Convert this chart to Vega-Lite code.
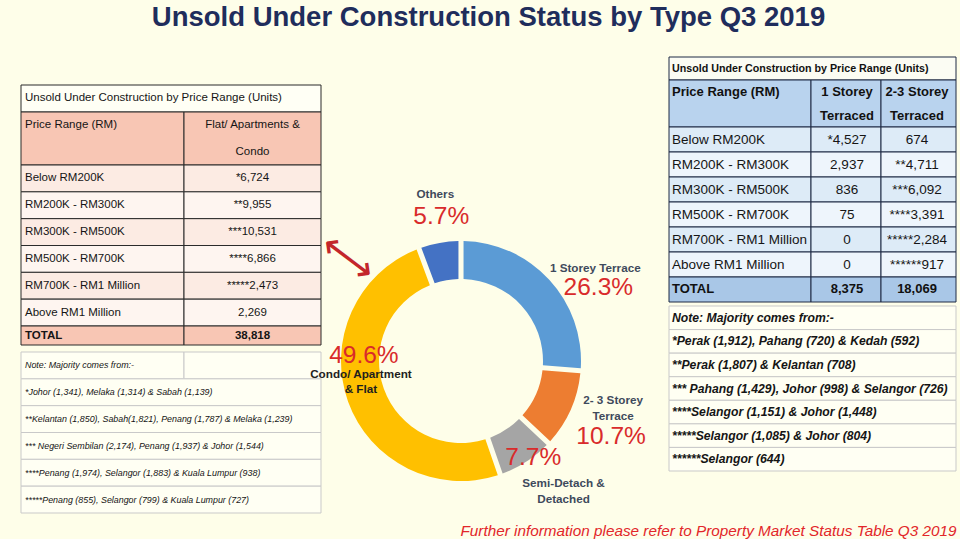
{
  "$schema": "https://vega.github.io/schema/vega-lite/v6.json",
  "background": "#FEFEE9",
  "padding": {"left": 20, "top": 3, "right": 5, "bottom": 0},
  "config": {
    "view": {"stroke": null},
    "font": "Liberation Sans"
  },
  "title": {
    "text": "Unsold Under Construction Status by Type Q3 2019",
    "fontSize": 27.5, "fontWeight": "bold", "color": "#1F2D5C",
    "anchor": "middle", "baseline": "top", "offset": 13
  },
  "datasets": {
    "leftCells": [
      {"r0": 0, "r1": 1, "c0": 0, "c1": 2, "kind": "Lt"},
      {"r0": 1, "r1": 3, "c0": 0, "c1": 1, "kind": "Lh"},
      {"r0": 1, "r1": 3, "c0": 1, "c1": 2, "kind": "Lh"},
      {"r0": 3, "r1": 4, "c0": 0, "c1": 1, "kind": "Lo"},
      {"r0": 3, "r1": 4, "c0": 1, "c1": 2, "kind": "Lo"},
      {"r0": 4, "r1": 5, "c0": 0, "c1": 1, "kind": "Le"},
      {"r0": 4, "r1": 5, "c0": 1, "c1": 2, "kind": "Le"},
      {"r0": 5, "r1": 6, "c0": 0, "c1": 1, "kind": "Lo"},
      {"r0": 5, "r1": 6, "c0": 1, "c1": 2, "kind": "Lo"},
      {"r0": 6, "r1": 7, "c0": 0, "c1": 1, "kind": "Le"},
      {"r0": 6, "r1": 7, "c0": 1, "c1": 2, "kind": "Le"},
      {"r0": 7, "r1": 8, "c0": 0, "c1": 1, "kind": "Lo"},
      {"r0": 7, "r1": 8, "c0": 1, "c1": 2, "kind": "Lo"},
      {"r0": 8, "r1": 9, "c0": 0, "c1": 1, "kind": "Le"},
      {"r0": 8, "r1": 9, "c0": 1, "c1": 2, "kind": "Le"},
      {"r0": 9, "r1": 10, "c0": 0, "c1": 1, "kind": "LT"},
      {"r0": 9, "r1": 10, "c0": 1, "c1": 2, "kind": "LT"},
      {"r0": 11, "r1": 12, "c0": 0, "c1": 1, "kind": "Ln"},
      {"r0": 11, "r1": 12, "c0": 1, "c1": 2, "kind": "Ln"},
      {"r0": 12, "r1": 13, "c0": 0, "c1": 2, "kind": "Ln"},
      {"r0": 13, "r1": 14, "c0": 0, "c1": 2, "kind": "Ln"},
      {"r0": 14, "r1": 15, "c0": 0, "c1": 2, "kind": "Ln"},
      {"r0": 15, "r1": 16, "c0": 0, "c1": 2, "kind": "Ln"},
      {"r0": 16, "r1": 17, "c0": 0, "c1": 2, "kind": "Ln"}
    ],
    "leftTexts": [
      {"r0": 0, "c0": 0, "t": "Unsold Under Construction by Price Range (Units)"},
      {"r0": 1, "c0": 0, "t": "Price Range (RM)"},
      {"r0": 1, "c0": 1, "t": "Flat/ Apartments &"},
      {"r0": 2, "c0": 1, "t": "Condo"},
      {"r0": 3, "c0": 0, "t": "Below RM200K"},
      {"r0": 3, "c0": 1, "t": "*6,724"},
      {"r0": 4, "c0": 0, "t": "RM200K - RM300K"},
      {"r0": 4, "c0": 1, "t": "**9,955"},
      {"r0": 5, "c0": 0, "t": "RM300K - RM500K"},
      {"r0": 5, "c0": 1, "t": "***10,531"},
      {"r0": 6, "c0": 0, "t": "RM500K - RM700K"},
      {"r0": 6, "c0": 1, "t": "****6,866"},
      {"r0": 7, "c0": 0, "t": "RM700K - RM1 Million"},
      {"r0": 7, "c0": 1, "t": "*****2,473"},
      {"r0": 8, "c0": 0, "t": "Above RM1 Million"},
      {"r0": 8, "c0": 1, "t": "2,269"},
      {"r0": 9, "c0": 0, "t": "TOTAL"},
      {"r0": 9, "c0": 1, "t": "38,818"},
      {"r0": 11, "c0": 0, "t": "Note:  Majority comes from:-"},
      {"r0": 12, "c0": 0, "t": "*Johor (1,341), Melaka (1,314) & Sabah (1,139)"},
      {"r0": 13, "c0": 0, "t": "**Kelantan (1,850), Sabah(1,821), Penang (1,787) & Melaka (1,239)"},
      {"r0": 14, "c0": 0, "t": "*** Negeri Sembilan (2,174), Penang (1,937) & Johor (1,544)"},
      {"r0": 15, "c0": 0, "t": "****Penang (1,974), Selangor (1,883) & Kuala Lumpur (938)"},
      {"r0": 16, "c0": 0, "t": "*****Penang (855), Selangor (799) & Kuala Lumpur (727)"}
    ],
    "rightCells": [
      {"r0": 0, "r1": 1, "c0": 0, "c1": 3, "kind": "Rt"},
      {"r0": 1, "r1": 3, "c0": 0, "c1": 1, "kind": "Rh"},
      {"r0": 1, "r1": 3, "c0": 1, "c1": 2, "kind": "Rh"},
      {"r0": 1, "r1": 3, "c0": 2, "c1": 3, "kind": "Rh"},
      {"r0": 3, "r1": 4, "c0": 0, "c1": 1, "kind": "Ro"},
      {"r0": 3, "r1": 4, "c0": 1, "c1": 2, "kind": "Ro"},
      {"r0": 3, "r1": 4, "c0": 2, "c1": 3, "kind": "Ro"},
      {"r0": 4, "r1": 5, "c0": 0, "c1": 1, "kind": "Re"},
      {"r0": 4, "r1": 5, "c0": 1, "c1": 2, "kind": "Re"},
      {"r0": 4, "r1": 5, "c0": 2, "c1": 3, "kind": "Re"},
      {"r0": 5, "r1": 6, "c0": 0, "c1": 1, "kind": "Ro"},
      {"r0": 5, "r1": 6, "c0": 1, "c1": 2, "kind": "Ro"},
      {"r0": 5, "r1": 6, "c0": 2, "c1": 3, "kind": "Ro"},
      {"r0": 6, "r1": 7, "c0": 0, "c1": 1, "kind": "Re"},
      {"r0": 6, "r1": 7, "c0": 1, "c1": 2, "kind": "Re"},
      {"r0": 6, "r1": 7, "c0": 2, "c1": 3, "kind": "Re"},
      {"r0": 7, "r1": 8, "c0": 0, "c1": 1, "kind": "Ro"},
      {"r0": 7, "r1": 8, "c0": 1, "c1": 2, "kind": "Ro"},
      {"r0": 7, "r1": 8, "c0": 2, "c1": 3, "kind": "Ro"},
      {"r0": 8, "r1": 9, "c0": 0, "c1": 1, "kind": "Re"},
      {"r0": 8, "r1": 9, "c0": 1, "c1": 2, "kind": "Re"},
      {"r0": 8, "r1": 9, "c0": 2, "c1": 3, "kind": "Re"},
      {"r0": 9, "r1": 10, "c0": 0, "c1": 1, "kind": "RT"},
      {"r0": 9, "r1": 10, "c0": 1, "c1": 2, "kind": "RT"},
      {"r0": 9, "r1": 10, "c0": 2, "c1": 3, "kind": "RT"},
      {"r0": 11, "r1": 12, "c0": 0, "c1": 3, "kind": "Rn"},
      {"r0": 12, "r1": 13, "c0": 0, "c1": 3, "kind": "Rn"},
      {"r0": 13, "r1": 14, "c0": 0, "c1": 3, "kind": "Rn"},
      {"r0": 14, "r1": 15, "c0": 0, "c1": 3, "kind": "Rn"},
      {"r0": 15, "r1": 16, "c0": 0, "c1": 3, "kind": "Rn"},
      {"r0": 16, "r1": 17, "c0": 0, "c1": 3, "kind": "Rn"},
      {"r0": 17, "r1": 18, "c0": 0, "c1": 3, "kind": "Rn"}
    ],
    "rightTexts": [
      {"r0": 0, "c0": 0, "t": "Unsold Under Construction by Price Range (Units)"},
      {"r0": 1, "c0": 0, "t": "Price Range (RM)"},
      {"r0": 1, "c0": 1, "t": "1 Storey"},
      {"r0": 2, "c0": 1, "t": "Terraced"},
      {"r0": 1, "c0": 2, "t": "2-3 Storey"},
      {"r0": 2, "c0": 2, "t": "Terraced"},
      {"r0": 3, "c0": 0, "t": "Below RM200K"},
      {"r0": 3, "c0": 1, "t": "*4,527"},
      {"r0": 3, "c0": 2, "t": "674"},
      {"r0": 4, "c0": 0, "t": "RM200K - RM300K"},
      {"r0": 4, "c0": 1, "t": "2,937"},
      {"r0": 4, "c0": 2, "t": "**4,711"},
      {"r0": 5, "c0": 0, "t": "RM300K - RM500K"},
      {"r0": 5, "c0": 1, "t": "836"},
      {"r0": 5, "c0": 2, "t": "***6,092"},
      {"r0": 6, "c0": 0, "t": "RM500K - RM700K"},
      {"r0": 6, "c0": 1, "t": "75"},
      {"r0": 6, "c0": 2, "t": "****3,391"},
      {"r0": 7, "c0": 0, "t": "RM700K - RM1 Million"},
      {"r0": 7, "c0": 1, "t": "0"},
      {"r0": 7, "c0": 2, "t": "*****2,284"},
      {"r0": 8, "c0": 0, "t": "Above RM1 Million"},
      {"r0": 8, "c0": 1, "t": "0"},
      {"r0": 8, "c0": 2, "t": "******917"},
      {"r0": 9, "c0": 0, "t": "TOTAL"},
      {"r0": 9, "c0": 1, "t": "8,375"},
      {"r0": 9, "c0": 2, "t": "18,069"},
      {"r0": 11, "c0": 0, "t": "Note:  Majority comes from:-"},
      {"r0": 12, "c0": 0, "t": "*Perak (1,912), Pahang (720) & Kedah (592)"},
      {"r0": 13, "c0": 0, "t": "**Perak (1,807) & Kelantan (708)"},
      {"r0": 14, "c0": 0, "t": "*** Pahang (1,429), Johor (998) & Selangor (726)"},
      {"r0": 15, "c0": 0, "t": "****Selangor (1,151) & Johor (1,448)"},
      {"r0": 16, "c0": 0, "t": "*****Selangor (1,085) & Johor (804)"},
      {"r0": 17, "c0": 0, "t": "******Selangor (644)"}
    ],
    "donut": [
      {"label": "1 Storey Terrace", "share": 0.263, "idx": 1},
      {"label": "2- 3 Storey\nTerrace", "share": 0.107, "idx": 2},
      {"label": "Semi-Detach &\nDetached", "share": 0.077, "idx": 3},
      {"label": "Condo/ Apartment\n& Flat", "share": 0.496, "idx": 4},
      {"label": "Others", "share": 0.057, "idx": 5}
    ]
  },
  "bounds": "flush",
  "spacing": 10,
  "hconcat": [
    {
      "width": 300, "height": 323,
      "encoding": {
        "x": {"field": "c0", "type": "quantitative", "scale": {"domain": [0, 1, 2], "range": [0, 163, 300], "nice": false, "zero": false}, "axis": null},
        "y": {"field": "r0", "type": "quantitative", "scale": {"domain": [0, 1, 3, 9, 10, 11, 17], "range": [-105, -78, -25, 136, 155, 162, 323], "nice": false, "zero": false}, "axis": null}
      },
      "layer": [
        {
          "data": {"name": "leftCells"},
          "mark": {"type": "rect", "strokeWidth": 1},
          "encoding": {
            "x2": {"field": "c1"}, "y2": {"field": "r1"},
            "fill": {"field": "kind", "type": "nominal", "legend": null,
              "scale": {"domain": ["Lt", "Lh", "Lo", "Le", "LT", "Ln", "Rt", "Rh", "Ro", "Re", "RT", "Rn"],
                        "range": ["#FFFFF5", "#F8C6B4", "#FCEBE3", "#FEF5F0", "#F8C6B4", "#FFFFF3", "#FBFCF3", "#B9D3EE", "#DDEBF7", "#EEF5FC", "#A9C7E7", "#FFFFF3"]}},
            "stroke": {"field": "kind", "type": "nominal", "legend": null,
              "scale": {"domain": ["Lt", "Lh", "Lo", "Le", "LT", "Ln", "Rt", "Rh", "Ro", "Re", "RT", "Rn"],
                        "range": ["#2B2B2B", "#2B2B2B", "#2B2B2B", "#2B2B2B", "#2B2B2B", "#C9C9C9", "#1F2A44", "#1F2A44", "#1F2A44", "#1F2A44", "#1F2A44", "#C9C9C9"]}}
          }
        },
        {
          "data": {"name": "leftTexts"},
          "transform": [{"filter": "datum.c0 === 0 && datum.r0 < 9"}],
          "mark": {"type": "text", "align": "left", "baseline": "middle", "dx": 4, "dy": 13.4, "fontSize": 11.5, "color": "#151515"},
          "encoding": {"text": {"field": "t"}}
        },
        {
          "data": {"name": "leftTexts"},
          "transform": [{"filter": "datum.c0 === 1 && datum.r0 < 9"}],
          "mark": {"type": "text", "align": "center", "baseline": "middle", "dx": 68.5, "dy": 13.4, "fontSize": 11.5, "color": "#151515"},
          "encoding": {"text": {"field": "t"}}
        },
        {
          "data": {"name": "leftTexts"},
          "transform": [{"filter": "datum.c0 === 0 && datum.r0 === 9"}],
          "mark": {"type": "text", "align": "left", "baseline": "middle", "dx": 4, "dy": 9.5, "fontSize": 11.5, "fontWeight": "bold", "color": "#151515"},
          "encoding": {"text": {"field": "t"}}
        },
        {
          "data": {"name": "leftTexts"},
          "transform": [{"filter": "datum.c0 === 1 && datum.r0 === 9"}],
          "mark": {"type": "text", "align": "center", "baseline": "middle", "dx": 68.5, "dy": 9.5, "fontSize": 11.5, "fontWeight": "bold", "color": "#151515"},
          "encoding": {"text": {"field": "t"}}
        },
        {
          "data": {"name": "leftTexts"},
          "transform": [{"filter": "datum.r0 >= 11"}],
          "mark": {"type": "text", "align": "left", "baseline": "middle", "dx": 4, "dy": 13.4, "fontSize": 8.9, "fontStyle": "italic", "color": "#151515"},
          "encoding": {"text": {"field": "t"}}
        }
      ]
    },
    {
      "width": 260, "height": 342,
      "data": {"name": "donut"},
      "encoding": {
        "theta": {"field": "share", "type": "quantitative", "stack": true},
        "order": {"field": "idx", "type": "quantitative"}
      },
      "layer": [
        {
          "mark": {"type": "arc", "innerRadius": 82, "outerRadius": 120, "padAngle": 0.035},
          "encoding": {
            "color": {"field": "label", "type": "nominal", "legend": null,
              "scale": {"domain": ["1 Storey Terrace", "2- 3 Storey\nTerrace", "Semi-Detach &\nDetached", "Condo/ Apartment\n& Flat", "Others"],
                        "range": ["#5B9BD5", "#ED7D31", "#A5A5A5", "#FFC000", "#4472C4"]}}
          }
        },
        {
          "mark": {"type": "text", "radius": 150, "dx": 24, "dy": 9, "fontSize": 11.7, "fontWeight": "bold", "color": "#3E4A5C", "lineBreak": "\n", "lineHeight": 16},
          "encoding": {"detail": {"field": "label"}, "text": {"condition": {"test": "datum.idx === 1", "field": "label", "type": "nominal"}, "value": ""}}
        },
        {
          "mark": {"type": "text", "radius": 150, "dx": 15, "dy": -22, "fontSize": 11.7, "fontWeight": "bold", "color": "#3E4A5C", "lineBreak": "\n", "lineHeight": 16},
          "encoding": {"detail": {"field": "label"}, "text": {"condition": {"test": "datum.idx === 2", "field": "label", "type": "nominal"}, "value": ""}}
        },
        {
          "mark": {"type": "text", "radius": 150, "dx": 21, "dy": -4, "fontSize": 11.7, "fontWeight": "bold", "color": "#3E4A5C", "lineBreak": "\n", "lineHeight": 16},
          "encoding": {"detail": {"field": "label"}, "text": {"condition": {"test": "datum.idx === 3", "field": "label", "type": "nominal"}, "value": ""}}
        },
        {
          "mark": {"type": "text", "radius": 100, "dx": -6, "dy": -21, "fontSize": 11.7, "fontWeight": "bold", "color": "#1E1E1E", "lineBreak": "\n", "lineHeight": 15},
          "encoding": {"detail": {"field": "label"}, "text": {"condition": {"test": "datum.idx === 4", "field": "label", "type": "nominal"}, "value": ""}}
        },
        {
          "mark": {"type": "text", "radius": 150, "dx": 1, "dy": -19, "fontSize": 11.7, "fontWeight": "bold", "color": "#3E4A5C", "lineBreak": "\n", "lineHeight": 16},
          "encoding": {"detail": {"field": "label"}, "text": {"condition": {"test": "datum.idx === 5", "field": "label", "type": "nominal"}, "value": ""}}
        },
        {
          "mark": {"type": "text", "radius": 150, "dx": 27, "dy": 29, "fontSize": 24.5, "color": "#D92B2B"},
          "encoding": {"detail": {"field": "label"}, "text": {"condition": {"test": "datum.idx === 1", "field": "share", "type": "quantitative", "format": ".1%"}, "value": ""}}
        },
        {
          "mark": {"type": "text", "radius": 150, "dx": 13, "dy": 15, "fontSize": 24.5, "color": "#D92B2B"},
          "encoding": {"detail": {"field": "label"}, "text": {"condition": {"test": "datum.idx === 2", "field": "share", "type": "quantitative", "format": ".1%"}, "value": ""}}
        },
        {
          "mark": {"type": "text", "radius": 120, "dx": 7, "dy": -4, "fontSize": 24.5, "color": "#D92B2B"},
          "encoding": {"detail": {"field": "label"}, "text": {"condition": {"test": "datum.idx === 3", "field": "share", "type": "quantitative", "format": ".1%"}, "value": ""}}
        },
        {
          "mark": {"type": "text", "radius": 100, "dx": -3, "dy": -39, "fontSize": 24.5, "color": "#D92B2B"},
          "encoding": {"detail": {"field": "label"}, "text": {"condition": {"test": "datum.idx === 4", "field": "share", "type": "quantitative", "format": ".1%"}, "value": ""}}
        },
        {
          "mark": {"type": "text", "radius": 150, "dx": 7, "dy": 4, "fontSize": 24.5, "color": "#D92B2B"},
          "encoding": {"detail": {"field": "label"}, "text": {"condition": {"test": "datum.idx === 5", "field": "share", "type": "quantitative", "format": ".1%"}, "value": ""}}
        },
        {
          "mark": {"type": "text", "radius": 150, "dx": -70, "dy": -139, "angle": 37, "fontSize": 40, "font": "DejaVu Sans", "color": "#C3262B"},
          "encoding": {"detail": {"field": "label"}, "text": {"condition": {"test": "datum.idx === 4", "value": "⟷"}, "value": ""}}
        }
      ]
    },
    {
      "width": 355, "height": 281,
      "title": {
        "text": "Further information please refer to Property Market Status Table Q3 2019",
        "orient": "bottom", "anchor": "end", "baseline": "top", "offset": 52,
        "fontSize": 15.3, "fontStyle": "italic", "fontWeight": "normal", "color": "#E2262A"
      },
      "encoding": {
        "x": {"field": "c0", "type": "quantitative", "scale": {"domain": [0, 1, 2, 3], "range": [68, 210, 280, 355], "nice": false, "zero": false}, "axis": null},
        "y": {"field": "r0", "type": "quantitative", "scale": {"domain": [0, 1, 3, 9, 10, 11, 18], "range": [-133, -110, -63, 87, 112, 116, 281], "nice": false, "zero": false}, "axis": null}
      },
      "layer": [
        {
          "data": {"name": "rightCells"},
          "mark": {"type": "rect", "strokeWidth": 1},
          "encoding": {
            "x2": {"field": "c1"}, "y2": {"field": "r1"},
            "fill": {"field": "kind", "type": "nominal", "legend": null,
              "scale": {"domain": ["Lt", "Lh", "Lo", "Le", "LT", "Ln", "Rt", "Rh", "Ro", "Re", "RT", "Rn"],
                        "range": ["#FFFFF5", "#F8C6B4", "#FCEBE3", "#FEF5F0", "#F8C6B4", "#FFFFF3", "#FBFCF3", "#B9D3EE", "#DDEBF7", "#EEF5FC", "#A9C7E7", "#FFFFF3"]}},
            "stroke": {"field": "kind", "type": "nominal", "legend": null,
              "scale": {"domain": ["Lt", "Lh", "Lo", "Le", "LT", "Ln", "Rt", "Rh", "Ro", "Re", "RT", "Rn"],
                        "range": ["#2B2B2B", "#2B2B2B", "#2B2B2B", "#2B2B2B", "#2B2B2B", "#C9C9C9", "#1F2A44", "#1F2A44", "#1F2A44", "#1F2A44", "#1F2A44", "#C9C9C9"]}}
          }
        },
        {
          "data": {"name": "rightTexts"},
          "transform": [{"filter": "datum.c0 === 0 && datum.r0 === 0"}],
          "mark": {"type": "text", "align": "left", "baseline": "middle", "dx": 3, "dy": 11.5, "fontSize": 10.7, "fontWeight": "bold", "color": "#111111"},
          "encoding": {"text": {"field": "t"}}
        },
        {
          "data": {"name": "rightTexts"},
          "transform": [{"filter": "datum.c0 === 0 && (datum.r0 === 1 || datum.r0 === 9)"}],
          "mark": {"type": "text", "align": "left", "baseline": "middle", "dx": 3, "dy": 12, "fontSize": 13, "fontWeight": "bold", "color": "#111111"},
          "encoding": {"text": {"field": "t"}}
        },
        {
          "data": {"name": "rightTexts"},
          "transform": [{"filter": "datum.c0 > 0 && (datum.r0 === 1 || datum.r0 === 2 || datum.r0 === 9)"}],
          "mark": {"type": "text", "align": "center", "baseline": "middle", "dx": 36, "dy": 12, "fontSize": 13, "fontWeight": "bold", "color": "#111111"},
          "encoding": {"text": {"field": "t"}}
        },
        {
          "data": {"name": "rightTexts"},
          "transform": [{"filter": "datum.c0 === 0 && datum.r0 >= 3 && datum.r0 <= 8"}],
          "mark": {"type": "text", "align": "left", "baseline": "middle", "dx": 3, "dy": 12.5, "fontSize": 13.5, "color": "#151515"},
          "encoding": {"text": {"field": "t"}}
        },
        {
          "data": {"name": "rightTexts"},
          "transform": [{"filter": "datum.c0 > 0 && datum.r0 >= 3 && datum.r0 <= 8"}],
          "mark": {"type": "text", "align": "center", "baseline": "middle", "dx": 36, "dy": 12.5, "fontSize": 13.5, "color": "#151515"},
          "encoding": {"text": {"field": "t"}}
        },
        {
          "data": {"name": "rightTexts"},
          "transform": [{"filter": "datum.r0 >= 11"}],
          "mark": {"type": "text", "align": "left", "baseline": "middle", "dx": 3, "dy": 11.8, "fontSize": 12.2, "fontStyle": "italic", "fontWeight": "bold", "color": "#151515"},
          "encoding": {"text": {"field": "t"}}
        }
      ]
    }
  ]
}
